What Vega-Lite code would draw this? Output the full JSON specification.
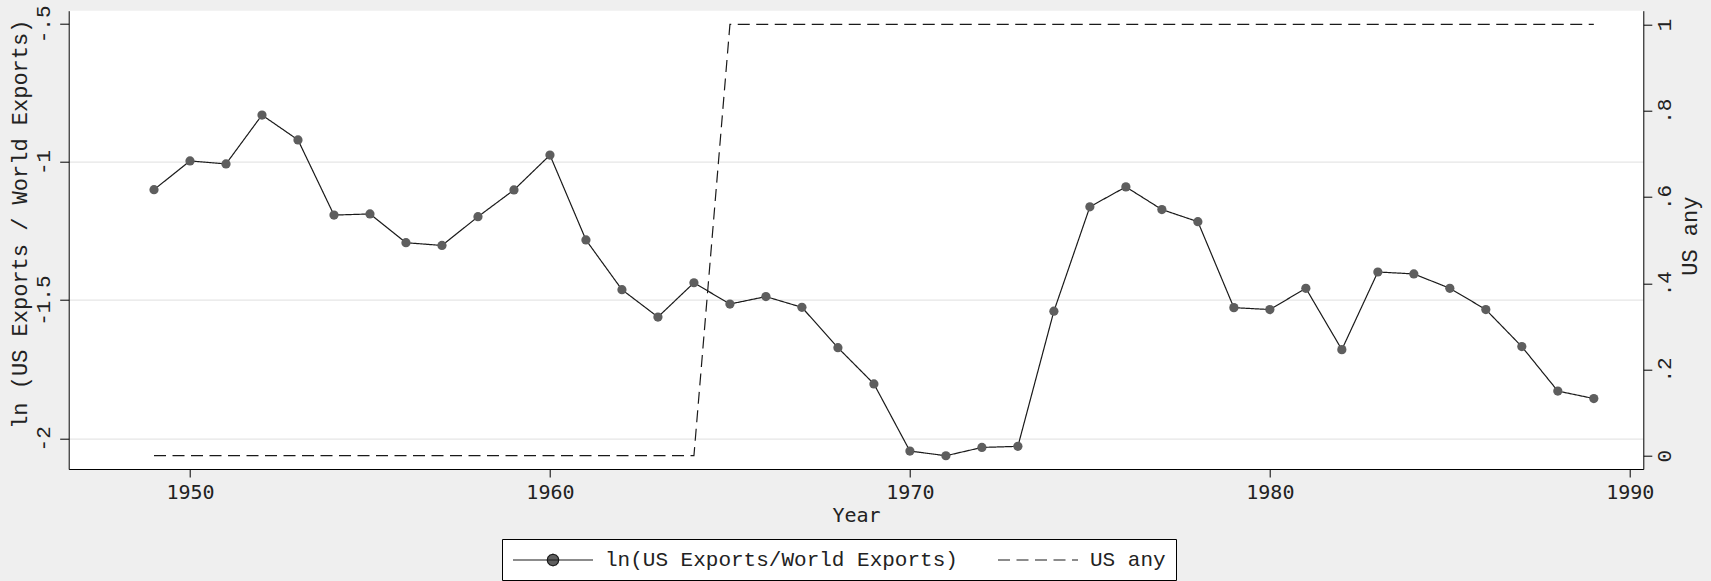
{
  "$schema": "https://vega.github.io/schema/vega-lite/v6.json",
  "autosize": {"type": "none"},
  "width": 1574.6,
  "height": 458.3,
  "padding": {"left": 68.7, "top": 10.7, "right": 67.7, "bottom": 112},
  "background": "#efefef",
  "data": {"values": [
    {"Year": 1949, "lnratio": -1.100, "usany": 0},
    {"Year": 1950, "lnratio": -0.996, "usany": 0},
    {"Year": 1951, "lnratio": -1.007, "usany": 0},
    {"Year": 1952, "lnratio": -0.830, "usany": 0},
    {"Year": 1953, "lnratio": -0.920, "usany": 0},
    {"Year": 1954, "lnratio": -1.192, "usany": 0},
    {"Year": 1955, "lnratio": -1.188, "usany": 0},
    {"Year": 1956, "lnratio": -1.292, "usany": 0},
    {"Year": 1957, "lnratio": -1.302, "usany": 0},
    {"Year": 1958, "lnratio": -1.198, "usany": 0},
    {"Year": 1959, "lnratio": -1.101, "usany": 0},
    {"Year": 1960, "lnratio": -0.975, "usany": 0},
    {"Year": 1961, "lnratio": -1.282, "usany": 0},
    {"Year": 1962, "lnratio": -1.462, "usany": 0},
    {"Year": 1963, "lnratio": -1.561, "usany": 0},
    {"Year": 1964, "lnratio": -1.437, "usany": 0},
    {"Year": 1965, "lnratio": -1.514, "usany": 1},
    {"Year": 1966, "lnratio": -1.487, "usany": 1},
    {"Year": 1967, "lnratio": -1.526, "usany": 1},
    {"Year": 1968, "lnratio": -1.672, "usany": 1},
    {"Year": 1969, "lnratio": -1.803, "usany": 1},
    {"Year": 1970, "lnratio": -2.046, "usany": 1},
    {"Year": 1971, "lnratio": -2.063, "usany": 1},
    {"Year": 1972, "lnratio": -2.033, "usany": 1},
    {"Year": 1973, "lnratio": -2.029, "usany": 1},
    {"Year": 1974, "lnratio": -1.540, "usany": 1},
    {"Year": 1975, "lnratio": -1.162, "usany": 1},
    {"Year": 1976, "lnratio": -1.090, "usany": 1},
    {"Year": 1977, "lnratio": -1.172, "usany": 1},
    {"Year": 1978, "lnratio": -1.216, "usany": 1},
    {"Year": 1979, "lnratio": -1.527, "usany": 1},
    {"Year": 1980, "lnratio": -1.534, "usany": 1},
    {"Year": 1981, "lnratio": -1.457, "usany": 1},
    {"Year": 1982, "lnratio": -1.679, "usany": 1},
    {"Year": 1983, "lnratio": -1.398, "usany": 1},
    {"Year": 1984, "lnratio": -1.405, "usany": 1},
    {"Year": 1985, "lnratio": -1.457, "usany": 1},
    {"Year": 1986, "lnratio": -1.534, "usany": 1},
    {"Year": 1987, "lnratio": -1.668, "usany": 1},
    {"Year": 1988, "lnratio": -1.829, "usany": 1},
    {"Year": 1989, "lnratio": -1.856, "usany": 1}
  ]},
  "encoding": {
    "x": {
      "field": "Year", "type": "quantitative",
      "scale": {"domain": [1946.63, 1990.375], "nice": false, "zero": false},
      "axis": {
        "values": [1950, 1960, 1970, 1980, 1990], "format": "d",
        "grid": false,
        "domainColor": "#000", "domainWidth": 1,
        "tickColor": "#000", "tickSize": 8, "tickWidth": 1,
        "labelFont": "DejaVu Sans Mono", "labelFontSize": 20, "labelColor": "#222",
        "labelBaseline": "top", "labelPadding": 5.5,
        "title": "Year", "titleFont": "DejaVu Sans Mono", "titleFontSize": 20,
        "titleFontWeight": "normal", "titleColor": "#222",
        "titleX": 787.3, "titleY": 52, "titleAlign": "center", "titleBaseline": "alphabetic"
      }
    }
  },
  "layer": [
    {
      "encoding": {
        "y": {
          "field": "lnratio", "type": "quantitative",
          "scale": {"domain": [-2.111, -0.4524], "nice": false, "zero": false},
          "axis": {
            "orient": "left",
            "values": [-2, -1.5, -1, -0.5],
            "labelExpr": "datum.value == -0.5 ? '-.5' : toString(datum.value)",
            "labelAngle": 270, "labelAlign": "center", "labelBaseline": "alphabetic",
            "labelPadding": 10,
            "labelFont": "Liberation Mono", "labelFontSize": 21, "labelColor": "#222",
            "domainColor": "#000", "domainWidth": 1,
            "tickColor": "#000", "tickSize": 9, "tickWidth": 1,
            "grid": true, "gridColor": "#e6e6e6", "gridWidth": 1.3,
            "gridOpacity": {"condition": {"test": "datum.value === -0.5", "value": 0}, "value": 1},
            "title": "ln (US Exports / World Exports)",
            "titleFont": "Liberation Mono", "titleFontSize": 22, "titleFontWeight": "normal", "titleColor": "#222",
            "titleAngle": 270, "titleX": -42, "titleY": 213, "titleAlign": "center", "titleBaseline": "alphabetic"
          }
        }
      },
      "layer": [
        {
          "mark": {"type": "line", "color": "#1a1a1a", "strokeWidth": 1.2},
          "encoding": {
            "strokeDash": {
              "datum": "ln(US Exports/World Exports)",
              "scale": {"domain": ["ln(US Exports/World Exports)", "US any"], "range": [[1, 0], [12, 6.5]]},
              "legend": {
                "orient": "none", "legendX": 433.3, "legendY": 528.3,
                "direction": "horizontal", "title": null,
                "strokeColor": "#000", "fillColor": "#ffffff", "padding": 10,
                "symbolSize": 400, "symbolStrokeWidth": 1.2, "symbolOffset": 30,
                "symbolStrokeColor": "#1a1a1a",
                "labelFont": "Liberation Mono", "labelFontSize": 21, "labelColor": "#222",
                "labelOffset": 41, "columnPadding": 37, "labelLimit": 0,
                "labelExpr": "datum.label == 'US any' ? 'US any\u00a0\u00a0' : datum.label",
                "encode": {
                  "symbols": {
                    "update": {
                      "shape": {"signal": "datum.value === 'US any' ? 'M-4,0L4,0' : 'M-4,0L4,0M0.58,0L0.502,0.29L0.29,0.502L0,0.58L-0.29,0.502L-0.502,0.29L-0.58,0L-0.502,-0.29L-0.29,-0.502L0,-0.58L0.29,-0.502L0.502,-0.29Z'"},
                      "fill": {"signal": "datum.value === 'US any' ? 'transparent' : '#5e5e5e'"},
                      "stroke": {"value": "#1a1a1a"},
                      "strokeWidth": {"value": 1.2},
                      "opacity": {"value": 1}
                    }
                  }
                }
              }
            }
          }
        },
        {
          "mark": {"type": "point", "filled": true, "color": "#5e5e5e", "size": 85, "opacity": 1}
        }
      ]
    },
    {
      "mark": {"type": "line", "color": "#1a1a1a", "strokeWidth": 1.2},
      "encoding": {
        "y": {
          "field": "usany", "type": "quantitative",
          "scale": {"domain": [-0.0308, 1.0319], "nice": false, "zero": false},
          "axis": {
            "orient": "right",
            "values": [0, 0.2, 0.4, 0.6, 0.8, 1],
            "labelExpr": "datum.value == 0 || datum.value == 1 ? toString(datum.value) : slice(format(datum.value, '.1f'), 1)",
            "labelAngle": 270, "labelAlign": "center", "labelBaseline": "top",
            "labelPadding": 2,
            "labelFont": "Liberation Mono", "labelFontSize": 21, "labelColor": "#222",
            "domainColor": "#000", "domainWidth": 1,
            "tickColor": "#000", "tickSize": 8.5, "tickWidth": 1,
            "grid": false,
            "title": "US any",
            "titleFont": "Liberation Mono", "titleFontSize": 22, "titleFontWeight": "normal", "titleColor": "#222",
            "titleAngle": 270, "titleX": 53.7, "titleY": 225, "titleAlign": "center", "titleBaseline": "alphabetic"
          }
        },
        "strokeDash": {"datum": "US any"}
      }
    }
  ],
  "resolve": {"scale": {"y": "independent"}},
  "config": {
    "view": {"fill": "#ffffff", "stroke": null}
  }
}
